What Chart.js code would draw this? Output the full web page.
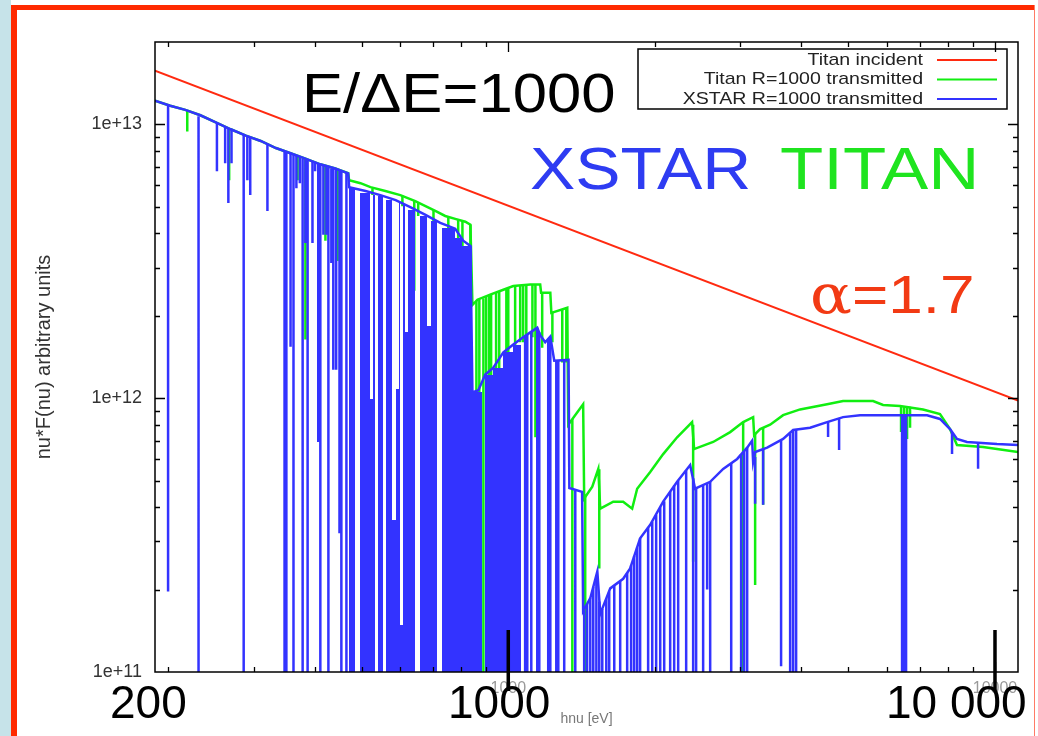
<!DOCTYPE html>
<html>
<head>
<meta charset="utf-8">
<title>XSTAR vs TITAN transmitted spectrum, E/dE=1000</title>
<script src="https://cdn.jsdelivr.net/npm/chart.js@4.4.1/dist/chart.umd.min.js"></script>
<style>
  html, body { margin: 0; padding: 0; background: #fff; }
  body { width: 1038px; height: 736px; position: relative; overflow: hidden;
         font-family: "Liberation Sans", Arial, sans-serif; }
  #chart { position: absolute; left: 0; top: 0; }
  .strip { position: absolute; left: 0; top: 0; width: 11px; height: 736px; background: #c6e3e9; }
  .border-left { position: absolute; left: 11px; top: 5px; width: 6px; height: 731px; background: #ff2a00; }
  .border-top { position: absolute; left: 11px; top: 5px; width: 1024px; height: 5px; background: #ff2a00; }
  .border-right { position: absolute; left: 1034px; top: 5px; width: 1px; height: 731px; background: #ff7a66; }
  .note { position: absolute; white-space: nowrap; line-height: 1; transform-origin: 0 0; }
</style>
</head>
<body>
<canvas id="chart" width="1038" height="736"></canvas>
<div class="strip"></div>
<div class="border-left"></div>
<div class="border-top"></div>
<div class="border-right"></div>

<div class="note" style="left:302px; top:65px; font-size:56px; color:#000; transform:scaleX(1.1);">E/&Delta;E=1000</div>
<div class="note" style="left:530px; top:140px; font-size:59px; color:#2e3cf2; transform:scaleX(1.15);">XSTAR</div>
<div class="note" style="left:780px; top:140px; font-size:59px; color:#1fe41f; transform:scaleX(1.2);">TITAN</div>
<div class="note" style="left:810px; top:267px; font-size:54px; color:#f23a14; transform:scaleX(1.15);"><span style="font-family:'DejaVu Serif', serif;">&alpha;</span>=1.7</div>
<div class="note" style="left:110px; top:679px; font-size:46px; color:#000;">200</div>
<div class="note" style="left:448px; top:679px; font-size:46px; color:#000;">1000</div>
<div class="note" style="left:886px; top:679px; font-size:46px; color:#000;">10 000</div>

<script>
// photon energy in eV, nu*F(nu) in units of 1e12

// axis ticks
const xTickVals = [1000, 10000];
const xTickLabels = ["1000", "10000"];
const yTickVals = [0.1, 1, 10];
const yTickLabels = ["1e+11", "1e+12", "1e+13"];

// incident power law (alpha = 1.7), read at both ends of the frame
const incidentE = [188, 11150];
const incidentF = [15.7, 0.98];

// XSTAR R=1000 transmitted: continuum
const xstarE = [188, 202, 217, 233, 250, 269, 289, 310, 333, 357, 383, 411, 441, 469,
  471, 509, 546, 587, 629, 676, 725, 778, 808, 836,
  844, 868, 897, 931, 977, 1024, 1073, 1110, 1147, 1163, 1191, 1220, 1243, 1330,
  1335, 1418, 1425, 1474, 1524, 1545, 1620, 1722, 1780, 1866, 1957, 2081, 2223, 2364,
  2420, 2599, 2764, 2953, 3096, 3170, 3185, 3216, 3403, 3670, 3848, 4170, 4519, 4874,
  5282, 7251, 7710, 8084, 8355, 8760, 10095, 11150];
const xstarF = [12.2, 11.7, 11.3, 10.8, 10.2, 9.6, 9.1, 8.7, 8.2, 7.85, 7.5, 7.15, 6.9, 6.63,
  5.9, 5.71, 5.52, 5.29, 4.99, 4.67, 4.37, 4.16, 3.76, 3.60,
  1.05, 1.07, 1.22, 1.29, 1.47, 1.57, 1.67, 1.74, 1.81, 1.70, 1.60, 1.68, 1.37, 1.38,
  0.47, 0.455, 0.167, 0.186, 0.233, 0.163, 0.202, 0.219, 0.239, 0.308, 0.345, 0.419, 0.495, 0.570,
  0.467, 0.495, 0.552, 0.60, 0.66, 0.70, 0.585, 0.636, 0.66, 0.71, 0.765, 0.78, 0.818, 0.853,
  0.867, 0.867, 0.84, 0.771, 0.71, 0.692, 0.68, 0.675];

// XSTAR absorption lines: energy, top (continuum) and bottom of the line
const xstarLineE = [200, 231, 252, 262, 266, 270, 286, 291, 295, 320, 347, 350, 357, 362, 367, 373,
  378, 383, 387, 396, 401, 407, 411, 417, 423, 427, 433, 437, 443, 450, 454, 465,
  1083, 1094, 1115, 1147, 1158, 1208, 1220, 1255, 1267, 1303,
  1373, 1432, 1452, 1474, 1495, 1517, 1538, 1560, 1590, 1612, 1651, 1698, 1755, 1788, 1814, 1840,
  1866, 1938, 1976, 2013, 2052, 2091, 2151, 2192, 2234, 2320, 2398, 2432, 2514, 2562, 2599, 2871,
  3009, 3052, 3096,
  3215, 3339, 3635, 3794, 3848, 3903, 4540, 4783, 6443, 6504, 6566, 8161, 9231];
const xstarLineTop = [11.8, 10.7, 10.1, 9.8, 9.7, 9.6, 9.2, 9.0, 8.95, 8.5, 8.05, 8.0, 7.9, 7.8, 7.7, 7.6,
  7.5, 7.45, 7.4, 7.3, 7.25, 7.2, 7.15, 7.05, 7.0, 6.95, 6.9, 6.88, 6.85, 6.8, 6.75, 6.7,
  1.68, 1.70, 1.75, 1.81, 1.74, 1.65, 1.68, 1.37, 1.37, 1.37,
  0.46, 0.168, 0.177, 0.186, 0.205, 0.226, 0.181, 0.17, 0.186, 0.197, 0.207, 0.214, 0.23, 0.245, 0.265, 0.285,
  0.308, 0.337, 0.354, 0.375, 0.40, 0.42, 0.455, 0.48, 0.50, 0.546, 0.51, 0.47, 0.48, 0.49, 0.495, 0.58,
  0.625, 0.64, 0.66,
  0.61, 0.652, 0.70, 0.745, 0.765, 0.768, 0.818, 0.84, 0.867, 0.867, 0.867, 0.752, 0.686];
const xstarLineBot = [0.197, 0.01, 6.74, 7.21, 5.16, 7.21, 0.01, 6.25, 5.52, 4.83, 0.01, 0.01, 1.54, 0.01, 5.85, 6.10,
  0.01, 3.69, 0.01, 3.69, 6.74, 0.692, 0.01, 3.95, 3.95, 0.01, 3.12, 1.27, 1.27, 0.321, 0.01, 0.01,
  0.01, 0.01, 0.01, 0.01, 0.01, 0.01, 0.01, 0.01, 0.01, 0.01,
  0.01, 0.01, 0.01, 0.01, 0.01, 0.01, 0.01, 0.01, 0.01, 0.01, 0.01, 0.01, 0.01, 0.01, 0.01, 0.01,
  0.01, 0.01, 0.01, 0.01, 0.01, 0.01, 0.01, 0.01, 0.01, 0.01, 0.01, 0.01, 0.01, 0.20, 0.01, 0.01,
  0.01, 0.01, 0.01,
  0.412, 0.408, 0.105, 0.01, 0.01, 0.01, 0.721, 0.647, 0.01, 0.01, 0.01, 0.625, 0.552];

// XSTAR saturated line forests: from energy, to energy, top
const xstarBandLo = [471, 497, 521, 528, 539, 562, 578, 587, 595, 600, 609, 614, 623, 660, 682, 695,
  732, 778, 805, 844, 897, 931, 977, 1024];
const xstarBandHi = [485, 521, 528, 533, 554, 578, 587, 595, 600, 609, 614, 623, 644, 682, 695, 715,
  778, 805, 844, 884, 931, 977, 1024, 1063];
const xstarBandTop = [5.85, 5.61, 0.99, 5.52, 5.47, 5.29, 0.36, 1.08, 5.20, 0.149, 5.12, 1.74, 4.87, 4.63, 1.84, 4.44,
  4.2, 3.85, 3.60, 1.05, 1.22, 1.29, 1.47, 1.57];

// TITAN R=1000 transmitted: continuum
const titanE = [188, 202, 217, 233, 250, 269, 289, 310, 333, 357, 383, 411, 441, 469,
  471, 497, 521, 559, 600, 644, 676, 708, 742, 778, 816, 836,
  844, 864, 918, 977, 1024, 1110, 1163, 1168, 1220, 1226, 1322,
  1328, 1425, 1432, 1488, 1531, 1545, 1643, 1722, 1797, 1840, 1957, 2081, 2223, 2386,
  2409, 2636, 2857, 3038, 3185, 3200, 3292, 3451, 3670, 3977, 4519, 4874, 5617, 5889,
  6382, 7115, 7710, 8084, 8355, 9449, 11150];
const titanF = [12.2, 11.7, 11.3, 10.8, 10.2, 9.6, 9.1, 8.7, 8.2, 7.85, 7.5, 7.15, 6.9, 6.63,
  6.25, 6.10, 5.90, 5.71, 5.52, 5.25, 5.03, 4.83, 4.63, 4.52, 4.41, 4.30,
  2.19, 2.29, 2.39, 2.49, 2.57, 2.60, 2.60, 2.43, 2.43, 2.05, 2.14,
  0.80, 0.95, 0.43, 0.475, 0.552, 0.395, 0.419, 0.419, 0.395, 0.467, 0.538, 0.625, 0.72, 0.818,
  0.652, 0.692, 0.752, 0.818, 0.853, 0.733, 0.771, 0.80, 0.867, 0.91, 0.951, 0.976, 0.976, 0.945,
  0.937, 0.91, 0.875, 0.771, 0.674, 0.663, 0.636];

// TITAN absorption lines
const titanLineE = [219, 267, 369, 383, 421, 446, 526, 606, 641, 653, 702, 753, 789, 805, 836,
  860, 872, 889, 901, 914, 922, 944, 958, 991, 1000, 1033, 1058, 1073, 1089, 1121, 1137, 1174, 1232, 1291, 1316,
  1354, 1439, 1538, 2398, 3038, 3215, 3339, 6412, 6504, 6597, 6691];
const titanLineTop = [11.2, 9.6, 7.7, 7.5, 7.05, 6.85, 5.85, 5.5, 5.28, 5.18, 4.87, 4.6, 4.48, 4.45, 4.30,
  2.27, 2.30, 2.32, 2.35, 2.38, 2.39, 2.43, 2.45, 2.51, 2.52, 2.57, 2.58, 2.59, 2.59, 2.60, 2.60, 2.43, 2.05, 2.10, 2.13,
  0.84, 0.44, 0.55, 0.80, 0.818, 0.74, 0.78, 0.937, 0.935, 0.93, 0.93];
const titanLineBot = [9.43, 6.25, 6.25, 1.64, 3.76, 3.17, 5.52, 5.03, 2.47, 4.63, 0.01, 4.09, 3.69, 3.26, 3.54,
  0.01, 0.01, 0.01, 0.01, 0.01, 0.01, 1.22, 1.22, 1.41, 1.41, 1.53, 1.60, 1.60, 1.60, 1.67, 0.72, 1.53, 1.60, 1.35, 1.35,
  0.01, 0.01, 0.239, 0.253, 0.01, 0.208, 0.408, 0.752, 0.71, 0.71, 0.78];

// colours
const RED = "#ff2a10";
const GREEN = "#11ee11";
const BLUE = "#3333ff";

// helpers:: build point lists
const toPoints = (es, fs) => es.map((e, i) => ({ x: e, y: fs[i] }));

function toLines(es, tops, bots) {
  const out = [];
  es.forEach((e, i) => {
    out.push({ x: e, y: tops[i] }, { x: e, y: bots[i] }, { x: e, y: null });
  });
  return out;
}

// saturated XSTAR forests, filled from their top down to the axis
function drawTroughs(chart) {
  const { ctx, chartArea: a, scales } = chart;
  ctx.save();
  ctx.beginPath();
  ctx.rect(a.left, a.top, a.right - a.left, a.bottom - a.top);
  ctx.clip();
  ctx.fillStyle = BLUE;
  for (let i = 0; i < xstarBandLo.length; i++) {
    // whole pixels, so neighbouring forests join without a seam
    const x0 = Math.round(scales.x.getPixelForValue(xstarBandLo[i]));
    const x1 = Math.round(scales.x.getPixelForValue(xstarBandHi[i]));
    const y0 = Math.round(scales.y.getPixelForValue(xstarBandTop[i]));
    ctx.fillRect(x0, y0, x1 - x0, a.bottom - y0);
  }
  ctx.restore();
}

// plugin:: gnuplot style frame, mirrored ticks, legend box and slide marks
const gnuplotFrame = {
  id: "gnuplotFrame",
  afterDatasetsDraw(chart) {
    drawTroughs(chart);

    const { ctx, chartArea: a, scales } = chart;
    const x = scales.x;
    const y = scales.y;
    ctx.save();
    ctx.strokeStyle = "#000";
    ctx.lineWidth = 1.5;
    ctx.strokeRect(a.left, a.top, a.right - a.left, a.bottom - a.top);

    ctx.lineWidth = 1.3;
    ctx.beginPath();
    for (let d = 2; d <= 4; d++) {
      for (let k = 1; k < 10; k++) {
        const v = k * Math.pow(10, d);
        if (v <= x.min || v >= x.max) continue;
        const px = Math.round(x.getPixelForValue(v)) + 0.5;
        const len = k === 1 ? 10 : 5;
        ctx.moveTo(px, a.bottom);
        ctx.lineTo(px, a.bottom - len);
        ctx.moveTo(px, a.top);
        ctx.lineTo(px, a.top + len);
      }
    }
    for (let d = -1; d <= 1; d++) {
      for (let k = 1; k < 10; k++) {
        const v = k * Math.pow(10, d);
        if (v <= y.min || v >= y.max) continue;
        const py = Math.round(y.getPixelForValue(v)) + 0.5;
        const len = k === 1 ? 10 : 5;
        ctx.moveTo(a.left, py);
        ctx.lineTo(a.left + len, py);
        ctx.moveTo(a.right, py);
        ctx.lineTo(a.right - len, py);
      }
    }
    ctx.stroke();

    // legend
    const boxW = 369;
    const boxH = 60;
    const boxX = a.right - 11 - boxW;
    const boxY = a.top + 7;
    ctx.lineWidth = 1.5;
    ctx.strokeRect(boxX, boxY, boxW, boxH);

    const rows = ["Titan incident", "Titan R=1000 transmitted", "XSTAR R=1000 transmitted"]
      .map((name) => chart.data.datasets.find((ds) => ds.label === name));
    ctx.font = '17px "Liberation Sans", Arial, sans-serif';
    ctx.textAlign = "right";
    ctx.textBaseline = "middle";
    rows.forEach((ds, r) => {
      const ry = boxY + 11 + r * 19.5;
      ctx.save();
      ctx.translate(boxX + 285, ry);
      ctx.scale(1.15, 1);
      ctx.fillStyle = "#222";
      ctx.fillText(ds.label, 0, 0);
      ctx.restore();
      ctx.strokeStyle = ds.borderColor;
      ctx.lineWidth = 2;
      ctx.beginPath();
      ctx.moveTo(boxX + 299, ry);
      ctx.lineTo(boxX + 359, ry);
      ctx.stroke();
    });
    ctx.restore();
  },
  afterDraw(chart) {
    // slide marks at the labelled decades
    const { ctx, chartArea: a, scales } = chart;
    ctx.save();
    ctx.strokeStyle = "#000";
    ctx.lineWidth = 3.5;
    ctx.beginPath();
    xTickVals.forEach((v) => {
      const px = scales.x.getPixelForValue(v);
      ctx.moveTo(px, a.bottom - 42);
      ctx.lineTo(px, a.bottom + 19);
    });
    ctx.stroke();
    ctx.restore();
  },
};

Chart.defaults.font.family = '"Liberation Sans", Arial, sans-serif';

new Chart(document.getElementById("chart"), {
  type: "line",
  data: {
    datasets: [
      {
        label: "XSTAR R=1000 transmitted",
        data: toPoints(xstarE, xstarF),
        borderColor: BLUE,
        borderWidth: 2.5,
        order: 0,
      },
      {
        label: "XSTAR lines",
        data: toLines(xstarLineE, xstarLineTop, xstarLineBot),
        borderColor: BLUE,
        borderWidth: 2.5,
        order: 1,
      },
      {
        label: "Titan R=1000 transmitted",
        data: toPoints(titanE, titanF),
        borderColor: GREEN,
        borderWidth: 2.5,
        order: 3,
      },
      {
        label: "Titan lines",
        data: toLines(titanLineE, titanLineTop, titanLineBot),
        borderColor: GREEN,
        borderWidth: 2.5,
        order: 4,
      },
      {
        label: "Titan incident",
        data: toPoints(incidentE, incidentF),
        borderColor: RED,
        borderWidth: 2,
        order: 5,
      },
    ],
  },
  options: {
    responsive: false,
    animation: false,
    events: [],
    clip: 0,
    spanGaps: false,
    elements: {
      point: { radius: 0 },
      line: { tension: 0, fill: false, borderJoinStyle: "miter", borderCapStyle: "butt" },
    },
    layout: { padding: { top: 42, right: 20, left: 0, bottom: 0 } },
    plugins: {
      legend: { display: false },
      tooltip: { enabled: false },
    },
    scales: {
      x: {
        type: "logarithmic",
        min: 188,
        max: 11150,
        afterFit: (scale) => {
          scale.height = 64;
        },
        afterBuildTicks: (scale) => {
          scale.ticks = xTickVals.map((v) => ({ value: v }));
        },
        ticks: {
          autoSkip: false,
          maxRotation: 0,
          padding: 7,
          color: "#999",
          font: { size: 16 },
          callback: (value, index) => xTickLabels[index],
        },
        grid: { display: false, drawTicks: false },
        border: { display: false },
        title: {
          display: true,
          text: "hnu [eV]",
          color: "#777",
          font: { size: 14 },
          padding: { top: 0, bottom: 8 },
        },
      },
      y: {
        type: "logarithmic",
        min: 0.1,
        max: 20,
        afterFit: (scale) => {
          scale.width = 155;
        },
        afterBuildTicks: (scale) => {
          scale.ticks = yTickVals.map((v) => ({ value: v }));
        },
        ticks: {
          padding: 13,
          color: "#333",
          font: { size: 18 },
          callback: (value, index) => yTickLabels[index],
        },
        grid: { display: false, drawTicks: false },
        border: { display: false },
        title: {
          display: true,
          text: "nu*F(nu) arbitrary units",
          color: "#333",
          font: { size: 20 },
          padding: { top: 32, bottom: 0 },
        },
      },
    },
  },
  plugins: [gnuplotFrame],
});
</script>
</body>
</html>
